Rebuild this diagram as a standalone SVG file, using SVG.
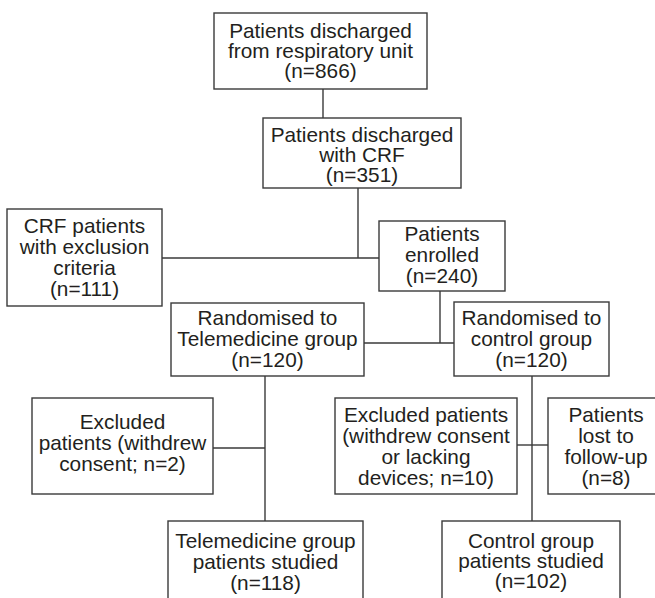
<svg xmlns="http://www.w3.org/2000/svg" width="655" height="598" viewBox="0 0 655 598">
<style>
.box{fill:#fff;stroke:#3a3a3a;stroke-width:1.4}
.t{font-family:"Liberation Sans",Arial,Helvetica,sans-serif;font-size:20.8px;fill:#231f20;text-anchor:middle}
.c{stroke:#3a3a3a;stroke-width:1.4;fill:none}
</style>
<rect width="655" height="598" fill="#fff"/>
<g id="connectors">
<line class="c" x1="323" y1="89" x2="323" y2="118"/>
<line class="c" x1="358" y1="188" x2="358" y2="258"/>
<line class="c" x1="162" y1="258" x2="379" y2="258"/>
<line class="c" x1="440" y1="291" x2="440" y2="343"/>
<line class="c" x1="364" y1="343" x2="454" y2="343"/>
<line class="c" x1="265" y1="376" x2="265" y2="521"/>
<line class="c" x1="213" y1="448" x2="265" y2="448"/>
<line class="c" x1="532" y1="376" x2="532" y2="521"/>
<line class="c" x1="517" y1="445" x2="548" y2="445"/>
</g>
<g id="n1">
<rect class="box" x="214" y="13" width="213" height="76"/>
<text class="t" x="320.5" y="38">Patients discharged</text>
<text class="t" x="320.5" y="58">from respiratory unit</text>
<text class="t" x="320.5" y="78">(n=866)</text>
</g>
<g id="n2">
<rect class="box" x="263" y="118" width="198" height="70"/>
<text class="t" x="362" y="142">Patients discharged</text>
<text class="t" x="362" y="162">with CRF</text>
<text class="t" x="362" y="182">(n=351)</text>
</g>
<g id="n3">
<rect class="box" x="7" y="209" width="155" height="97"/>
<text class="t" x="84.5" y="233">CRF patients</text>
<text class="t" x="84.5" y="254">with exclusion</text>
<text class="t" x="84.5" y="275">criteria</text>
<text class="t" x="84.5" y="296">(n=111)</text>
</g>
<g id="n4">
<rect class="box" x="379" y="221" width="126" height="70"/>
<text class="t" x="442" y="241">Patients</text>
<text class="t" x="442" y="262">enrolled</text>
<text class="t" x="442" y="283">(n=240)</text>
</g>
<g id="n5">
<rect class="box" x="171" y="303" width="193" height="73"/>
<text class="t" x="267.5" y="325">Randomised to</text>
<text class="t" x="267.5" y="346">Telemedicine group</text>
<text class="t" x="267.5" y="367">(n=120)</text>
</g>
<g id="n6">
<rect class="box" x="454" y="302" width="155" height="74"/>
<text class="t" x="531.5" y="325">Randomised to</text>
<text class="t" x="531.5" y="346">control group</text>
<text class="t" x="531.5" y="367">(n=120)</text>
</g>
<g id="n7">
<rect class="box" x="32" y="398" width="181" height="96"/>
<text class="t" x="122.5" y="429">Excluded</text>
<text class="t" x="122.5" y="450">patients (withdrew</text>
<text class="t" x="122.5" y="471">consent; n=2)</text>
</g>
<g id="n8">
<rect class="box" x="335" y="398" width="182" height="96"/>
<text class="t" x="426" y="422">Excluded patients</text>
<text class="t" x="426" y="443">(withdrew consent</text>
<text class="t" x="426" y="464">or lacking</text>
<text class="t" x="426" y="485">devices; n=10)</text>
</g>
<g id="n9">
<rect class="box" x="548" y="398" width="120" height="96"/>
<text class="t" x="606" y="422">Patients</text>
<text class="t" x="606" y="443">lost to</text>
<text class="t" x="606" y="464">follow-up</text>
<text class="t" x="606" y="485">(n=8)</text>
</g>
<g id="n10">
<rect class="box" x="168" y="521" width="195" height="90"/>
<text class="t" x="265.5" y="548">Telemedicine group</text>
<text class="t" x="265.5" y="569">patients studied</text>
<text class="t" x="265.5" y="590">(n=118)</text>
</g>
<g id="n11">
<rect class="box" x="442" y="521" width="178" height="90"/>
<text class="t" x="531" y="548">Control group</text>
<text class="t" x="531" y="568">patients studied</text>
<text class="t" x="531" y="588">(n=102)</text>
</g>
</svg>
